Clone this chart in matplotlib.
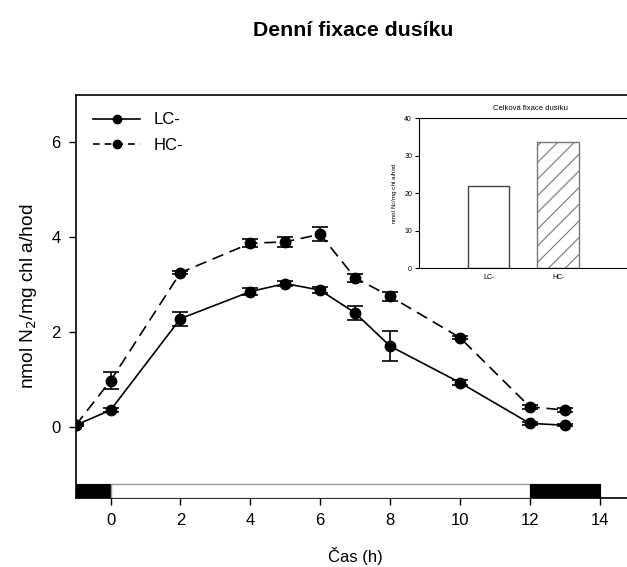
import numpy as np
import matplotlib
matplotlib.use('Agg')
from matplotlib import pyplot as plt
from matplotlib.lines import Line2D

plt.rcParams['font.family'] = ['Liberation Sans', 'DejaVu Sans']
plt.rcParams['hatch.color'] = '#777777'
plt.rcParams['hatch.linewidth'] = 0.8

# DATA
time_h = [-1, 0, 2, 4, 5, 6, 7, 8, 10, 12, 13]
lc_vals = [0.03, 0.35, 2.28, 2.85, 3.02, 2.88, 2.40, 1.70, 0.93, 0.07, 0.03]
lc_err = [0.02, 0.05, 0.15, 0.07, 0.05, 0.07, 0.15, 0.32, 0.05, 0.03, 0.02]
hc_vals = [0.03, 0.97, 3.25, 3.87, 3.90, 4.06, 3.14, 2.75, 1.88, 0.42, 0.35]
hc_err = [0.02, 0.18, 0.03, 0.08, 0.10, 0.15, 0.08, 0.10, 0.04, 0.04, 0.05]

# light/dark periods
period_start = [-1, 0, 12]
period_end = [0, 12, 14]
period_dark = [True, False, True]

# inset totals
total_labels = ['LC-', 'HC-']
total_vals = [21.9, 33.6]

fig = plt.figure(figsize=(6.27, 5.67), dpi=100)

# main axes (right side runs past the figure edge like the original crop)
ax = fig.add_axes([0.1207, 0.1222, 0.8913, 0.7103])

ax.errorbar(time_h, lc_vals, yerr=lc_err, color='black', marker='o', markersize=7.5,
            linewidth=1.2, capsize=6, elinewidth=1.2, capthick=1.2)
ax.errorbar(time_h, hc_vals, yerr=hc_err, color='black', marker='o', markersize=7.5,
            linewidth=1.2, dashes=(7, 4), capsize=6, elinewidth=1.2, capthick=1.2)

# day/night bar at the bottom
for s, e, dark in zip(period_start, period_end, period_dark):
    if dark:
        ax.bar(s, 0.29, width=e - s, bottom=-1.5, align='edge', color='black',
               edgecolor='black', linewidth=0.8, zorder=3)
    else:
        ax.bar(s, 0.29, width=e - s, bottom=-1.5, align='edge', color='white',
               edgecolor='#999999', linewidth=1.0, zorder=3)

ax.set_xlim(-1, 15)
ax.set_ylim(-1.5, 7)
ax.set_xticks([0, 2, 4, 6, 8, 10, 12, 14])
ax.set_yticks([0, 2, 4, 6])
ax.tick_params(direction='out', length=5, width=1, labelsize=12, pad=6)
for sp in ax.spines.values():
    sp.set_linewidth(1.2)
ax.set_xlabel('Čas (h)', fontsize=12, labelpad=14)
ax.set_ylabel('nmol N$_2$/mg chl a/hod', fontsize=13.8, labelpad=9)

# legend with plain line+marker handles
handles = [Line2D([], [], color='black', marker='o', markersize=6, linewidth=1.2),
           Line2D([], [], color='black', marker='o', markersize=6, linewidth=1.2, dashes=(4, 3))]
ax.legend(handles, ['LC-', 'HC-'], loc='upper left', bbox_to_anchor=(0.0, 1.0), frameon=False,
          fontsize=12, handlelength=2.8, handletextpad=0.8, labelspacing=0.62,
          borderaxespad=0.7, borderpad=0.35)

fig.text(0.563, 0.947, 'Denní fixace dusíku', ha='center', va='center',
         fontsize=15.3, fontweight='bold')

# inset
ins = fig.add_axes([0.6683, 0.5273, 0.355, 0.2645])
pos = np.arange(1, len(total_vals) + 1)
ins.bar(pos[0], total_vals[0], width=0.6, color='white', edgecolor='#444444', linewidth=1.0)
ins.bar(pos[1], total_vals[1], width=0.6, color='white', edgecolor='#777777', linewidth=1.0,
        hatch='//')
ins.set_xlim(0, 3.2)
ins.set_ylim(0, 40)
ins.set_yticks([0, 10, 20, 30, 40])
ins.set_xticks(pos)
ins.set_xticklabels(total_labels)
ins.tick_params(axis='y', direction='out', length=3, labelsize=5, pad=2)
ins.tick_params(axis='x', length=0, labelsize=5, pad=4)
ins.set_ylabel('nmol N$_2$/mg chl a/hod', fontsize=4.5, labelpad=4)
ins.set_title('Celková fixace dusíku', fontsize=5.5, pad=6)

plt.savefig('out.png', dpi=100)
